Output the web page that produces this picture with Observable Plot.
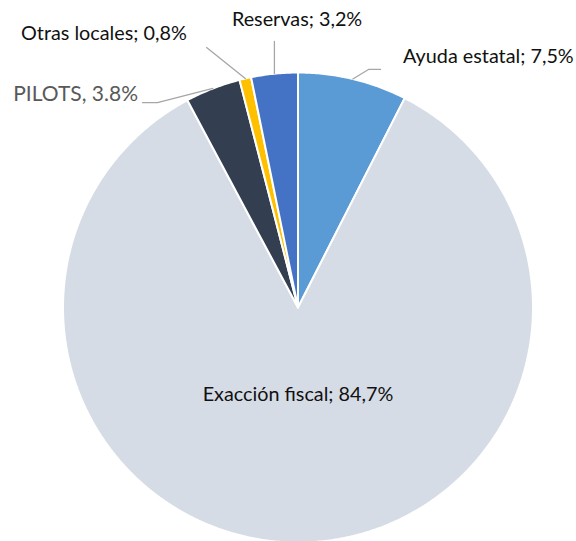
<!DOCTYPE html>
<html><head><meta charset="utf-8">
<script src="https://cdn.jsdelivr.net/npm/d3@7"></script>
<script src="https://cdn.jsdelivr.net/npm/@observablehq/plot@0.6"></script>
<style>body{margin:0;background:#fff;} #chart svg{display:block;}</style>
</head><body><div id="chart"></div>
<script>
// ---- data ----
const categories = ["Ayuda estatal", "Exacción fiscal", "PILOTS", "Otras locales", "Reservas"];
const values = [7.5, 84.7, 3.8, 0.8, 3.2];
const labels = ["Ayuda estatal; 7,5%", "Exacción fiscal; 84,7%", "PILOTS, 3.8%", "Otras locales; 0,8%", "Reservas; 3,2%"];

// ---- styles / layout ----
const colors = ["#5B9BD5", "#D6DCE5", "#333F50", "#FFC000", "#4472C4"];
const textColors = ["#111111", "#111111", "#595959", "#111111", "#111111"];
const fontSizes = [19.8, 19.8, 21, 19.8, 19.8];
const cx = 297.5, cy = 307, R = 235;
// label anchor positions in unit-circle coordinates
const labelPos = [[0.447, 1.068], [0, -0.370], [-0.681, 0.906], [-0.826, 1.166], [-0.004, 1.225]];
const labelAnchor = ["start", "middle", "end", "middle", "middle"];
// leader line waypoints (after the arc midpoint), unit coordinates
const leaders = [
  [[0.300, 1.013], [0.351, 1.013]],
  null,
  [[-0.598, 0.872], [-0.662, 0.872]],
  [[-0.389, 1.106]],
  [[null, 1.132]]
];

const arcs = d3.pie().sort(null)(values);
const slicePts = [];
arcs.forEach((a, i) => {
  const pts = [[0, 0]];
  const n = Math.max(2, Math.ceil((a.endAngle - a.startAngle) / (Math.PI / 360)));
  for (let k = 0; k <= n; k++) {
    const t = a.startAngle + (a.endAngle - a.startAngle) * k / n;
    pts.push([Math.sin(t), Math.cos(t)]);
  }
  pts.push([0, 0]);
  pts.forEach(([x, y]) => slicePts.push({cat: categories[i], x, y}));
});

const leaderPts = [];
arcs.forEach((a, i) => {
  if (!leaders[i]) return;
  const m = (a.startAngle + a.endAngle) / 2;
  const sx = Math.sin(m), sy = Math.cos(m);
  leaderPts.push({cat: categories[i], x: sx, y: sy});
  leaders[i].forEach(([x, y]) => leaderPts.push({cat: categories[i], x: x ?? sx, y}));
});

const labelData = labels.map((t, i) => ({t, x: labelPos[i][0], y: labelPos[i][1], anchor: labelAnchor[i], c: textColors[i], s: fontSizes[i]}));

const plot = Plot.plot({
  width: 576, height: 541,
  marginTop: 0, marginRight: 0, marginBottom: 0, marginLeft: 0,
  x: {domain: [-1, 1], range: [cx - R, cx + R], axis: null},
  y: {domain: [-1, 1], range: [cy + R, cy - R], axis: null},
  color: {domain: categories, range: colors},
  style: {fontFamily: "Lato, sans-serif", background: "#fff"},
  marks: [
    Plot.line(slicePts, {x: "x", y: "y", z: "cat", fill: "cat", stroke: "#fff", strokeWidth: 2, strokeLinejoin: "miter", curve: "linear"}),
    Plot.line(leaderPts, {x: "x", y: "y", z: "cat", stroke: "#A6A6A6", strokeWidth: 1.3, curve: "linear"}),
    ...labelData.map(d =>
      Plot.text([d], {x: "x", y: "y", text: "t", fill: d.c, textAnchor: d.anchor, fontSize: d.s, fontFamily: "Lato, sans-serif"})
    )
  ]
});
document.getElementById("chart").appendChild(plot);
</script>
</body></html>
